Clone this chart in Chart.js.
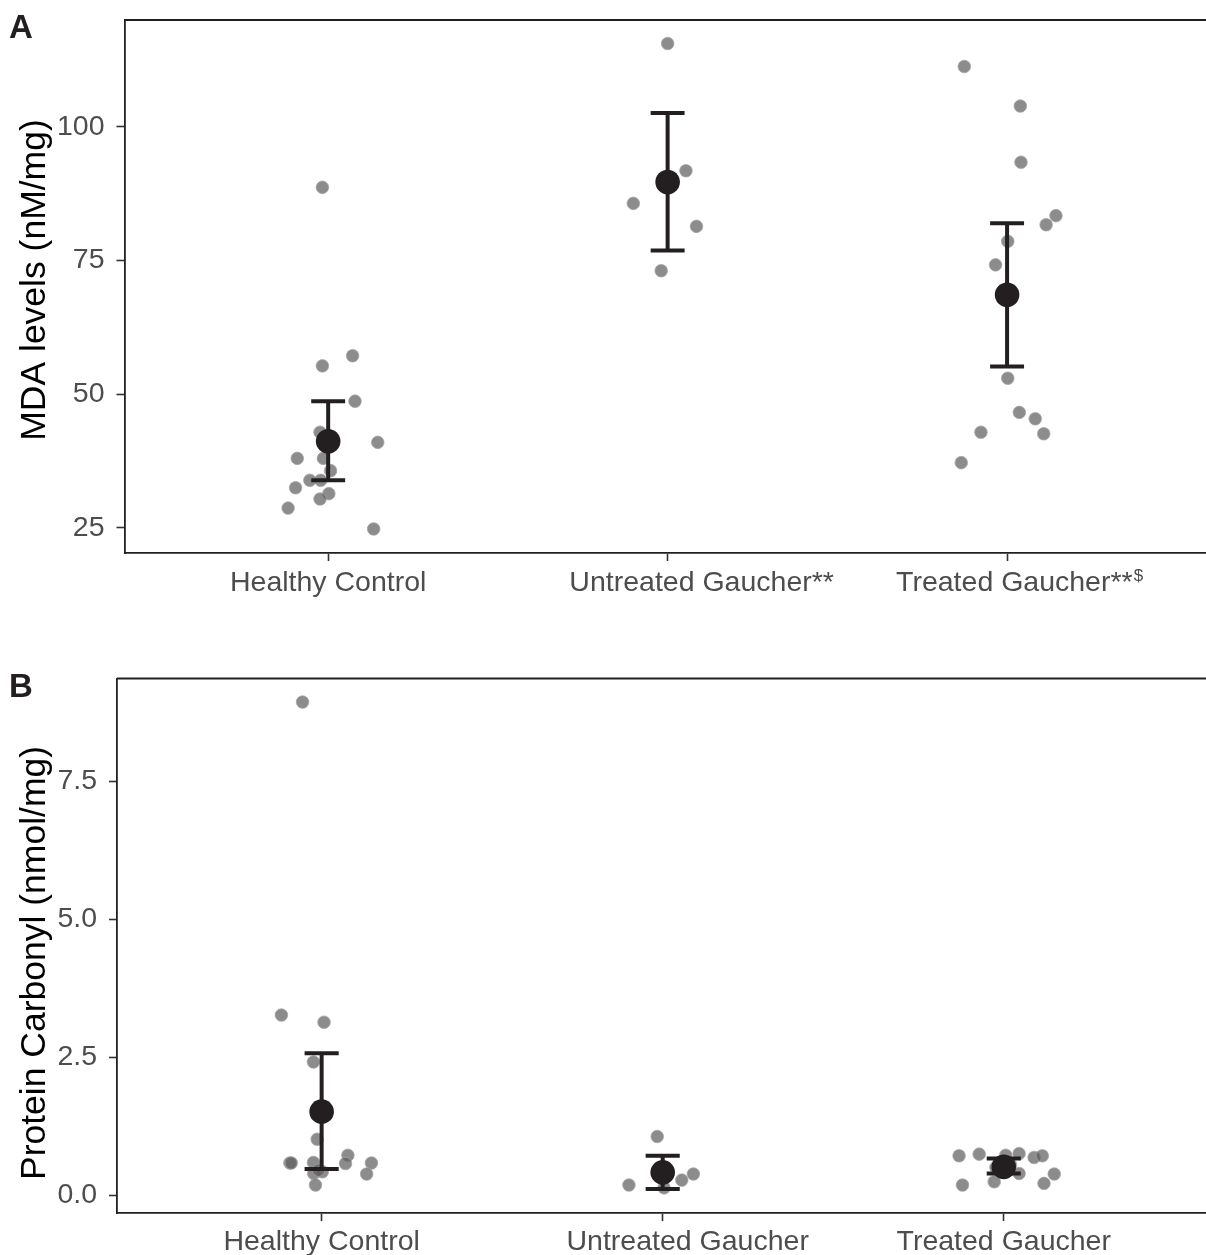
<!DOCTYPE html>
<html>
<head>
<meta charset="utf-8">
<script src="https://cdn.jsdelivr.net/npm/chart.js@4.4.1/dist/chart.umd.min.js"></script>
<style>
  html, body { margin: 0; padding: 0; background: #fff; overflow: hidden; }
  canvas { position: absolute; left: 0; }
  #chartA { top: 0; }
  #chartB { top: 640px; }
</style>
</head>
<body>
<canvas id="chartA" width="1206" height="625"></canvas>
<canvas id="chartB" width="1206" height="615"></canvas>
<script>
// ---- data ----
const categoriesA = ['Healthy Control', 'Untreated Gaucher**', 'Treated Gaucher**'];
const superscriptsA = ['', '', '$'];
const categoriesB = ['Healthy Control', 'Untreated Gaucher', 'Treated Gaucher'];

// MDA levels (nM/mg), individual subjects + horizontal jitter (category units)
const mdaHealthy = [88.7, 57.2, 55.3, 48.7, 42.9, 41.0, 38.0, 38.0, 35.7, 33.9, 33.9, 32.5, 31.4, 30.4, 28.7, 24.8];
const mdaHealthyJit = [-0.017, 0.072, -0.017, 0.079, -0.024, 0.146, -0.091, -0.014, 0.007, -0.054, -0.022, -0.096, 0.002, -0.024, -0.118, 0.134];
const mdaUntreated = [115.6, 91.8, 85.7, 81.4, 73.1];
const mdaUntreatedJit = [0.0, 0.054, -0.101, 0.085, -0.019];
const mdaTreated = [111.3, 103.9, 93.4, 83.4, 81.7, 78.6, 74.2, 53.0, 46.6, 45.4, 42.9, 42.6, 37.2];
const mdaTreatedJit = [-0.126, 0.039, 0.041, 0.144, 0.115, 0.002, -0.034, 0.002, 0.036, 0.083, -0.077, 0.108, -0.135];
const mdaMean = [41.2, 89.7, 68.6];
const mdaLow = [33.9, 76.9, 55.2];
const mdaHigh = [48.7, 102.6, 82.0];
const mdaTicks = [25, 50, 75, 100];

// Protein carbonyl (nmol/mg)
const pcHealthy = [8.93, 3.26, 3.13, 2.41, 1.01, 0.58, 0.58, 0.72, 0.57, 0.58, 0.38, 0.59, 0.39, 0.42, 0.18, 0.45];
const pcHealthyJit = [-0.056, -0.118, 0.007, -0.024, -0.013, -0.093, -0.089, 0.077, 0.070, 0.146, 0.132, -0.024, -0.023, 0.002, -0.018, -0.009];
const pcUntreated = [1.06, 0.18, 0.27, 0.38, 0.13];
const pcUntreatedJit = [-0.016, -0.099, 0.056, 0.090, 0.004];
const pcTreated = [0.71, 0.74, 0.72, 0.75, 0.68, 0.71, 0.39, 0.38, 0.18, 0.24, 0.21, 0.55, 0.50];
const pcTreatedJit = [-0.131, -0.072, 0.006, 0.045, 0.089, 0.113, 0.045, 0.148, -0.121, -0.028, 0.118, 0.020, -0.023];
const pcMean = [1.51, 0.41, 0.51];
const pcLow = [0.47, 0.11, 0.39];
const pcHigh = [2.57, 0.71, 0.66];
const pcTicks = [0, 2.5, 5, 7.5];

// ---- helpers ----
const FONT = '"Liberation Sans", Arial, Helvetica, sans-serif';
const INK = '#231f20';
Chart.defaults.font.family = FONT;

function jittered(groups, jitters) {
    const pts = [];
    groups.forEach(function (vals, g) {
        vals.forEach(function (v, i) {
            pts.push({ x: g + 1 + jitters[g][i], y: v });
        });
    });
    return pts;
}

function errorBars(low, high, capW) {
    const pts = [];
    for (let i = 0; i < low.length; i++) {
        const c = i + 1;
        pts.push({ x: c, y: low[i] }, { x: c, y: high[i] }, { x: c, y: null });
        pts.push({ x: c - capW, y: high[i] }, { x: c + capW, y: high[i] }, { x: c, y: null });
        pts.push({ x: c - capW, y: low[i] }, { x: c + capW, y: low[i] }, { x: c, y: null });
    }
    return pts;
}

// top frame line, panel letter, y title and the category labels (with superscripts)
const panelDecor = {
    id: 'panelDecor',
    afterDraw(chart, args, o) {
        const ctx = chart.ctx;
        const area = chart.chartArea;
        const xs = chart.scales.x;
        ctx.save();
        ctx.strokeStyle = INK;
        ctx.lineWidth = 1.8;
        ctx.beginPath();
        ctx.moveTo(area.left, area.top);
        ctx.lineTo(area.right, area.top);
        ctx.stroke();

        ctx.fillStyle = INK;
        ctx.textAlign = 'left';
        ctx.textBaseline = 'alphabetic';
        ctx.font = 'bold 33px ' + FONT;
        ctx.fillText(o.letter, o.letterX, o.letterY);

        // axis title, rotated
        ctx.save();
        ctx.translate(o.titleX, o.titleY);
        ctx.rotate(-Math.PI / 2);
        ctx.fillStyle = '#000000';
        ctx.font = '35.5px ' + FONT;
        ctx.textAlign = 'center';
        ctx.textBaseline = 'middle';
        ctx.fillText(o.title, 0, 0);
        ctx.restore();

        ctx.fillStyle = '#4d4d4d';
        ctx.textAlign = 'left';
        ctx.textBaseline = 'alphabetic';
        o.labels.forEach(function (lab, i) {
            const sup = o.sups[i] || '';
            ctx.font = '28.5px ' + FONT;
            const w1 = ctx.measureText(lab).width;
            ctx.font = '17px ' + FONT;
            const w2 = sup ? ctx.measureText(sup).width : 0;
            const x0 = xs.getPixelForValue(i + 1) + o.shifts[i] - (w1 + w2) / 2;
            ctx.font = '28.5px ' + FONT;
            ctx.fillText(lab, x0, o.labelY);
            if (sup) {
                ctx.font = '17px ' + FONT;
                ctx.fillText(sup, x0 + w1 + 1, o.labelY - 10);
            }
        });
        ctx.restore();
    }
};

function makePanel(id, p) {
    return new Chart(document.getElementById(id), {
        type: 'scatter',
        data: {
            datasets: [
                {
                    data: p.mean.map(function (v, i) { return { x: i + 1, y: v }; }),
                    backgroundColor: INK,
                    borderColor: INK,
                    borderWidth: 0,
                    pointRadius: 12.3,
                    order: 0
                },
                {
                    type: 'line',
                    data: errorBars(p.low, p.high, 0.05),
                    borderColor: INK,
                    borderWidth: 4,
                    borderCapStyle: 'butt',
                    pointRadius: 0,
                    spanGaps: false,
                    fill: false,
                    tension: 0,
                    order: 1
                },
                {
                    data: p.points,
                    backgroundColor: 'rgba(95,95,95,0.72)',
                    borderColor: 'rgba(165,165,165,0.75)',
                    borderWidth: 1,
                    pointRadius: 6.3,
                    order: 2
                }
            ]
        },
        options: {
            responsive: false,
            animation: false,
            events: [],
            layout: { autoPadding: false, padding: { top: p.padTop, left: 0, right: 0, bottom: 0 } },
            plugins: {
                legend: { display: false },
                tooltip: { enabled: false },
                panelDecor: p.decor
            },
            scales: {
                x: {
                    type: 'linear',
                    min: 0.4,
                    max: p.xMax,
                    afterBuildTicks: function (s) { s.ticks = [1, 2, 3].map(function (v) { return { value: v }; }); },
                    afterFit: function (s) { s.height = p.xAxisH; s.paddingLeft = 0; s.paddingRight = 0; },
                    ticks: { display: false, autoSkip: false },
                    grid: { drawOnChartArea: false, drawTicks: true, tickLength: 8, tickColor: '#333333', tickWidth: 1.6 },
                    border: { color: INK, width: 1.8 }
                },
                y: {
                    min: p.yMin,
                    max: p.yMax,
                    afterBuildTicks: function (s) { s.ticks = p.ticks.map(function (v) { return { value: v }; }); },
                    afterFit: function (s) { s.width = p.yAxisW; s.paddingTop = 0; s.paddingBottom = 0; },
                    ticks: {
                        color: '#4d4d4d',
                        font: { size: 28.5 },
                        padding: 12,
                        callback: p.tickFmt
                    },
                    grid: { drawOnChartArea: false, drawTicks: true, tickLength: 8, tickColor: '#333333', tickWidth: 1.6 },
                    border: { color: INK, width: 1.8 },
                    title: { display: false }
                }
            }
        },
        plugins: [panelDecor]
    });
}

makePanel('chartA', {
    points: jittered([mdaHealthy, mdaUntreated, mdaTreated], [mdaHealthyJit, mdaUntreatedJit, mdaTreatedJit]),
    mean: mdaMean, low: mdaLow, high: mdaHigh,
    ticks: mdaTicks,
    tickFmt: function (v) { return String(v); },
    yMin: 20.3, yMax: 120,
    xMax: 3.586,
    padTop: 20, xAxisH: 72, yAxisW: 124.5,
    decor: {
        letter: 'A', letterX: 9, letterY: 38,
        title: 'MDA levels (nM/mg)', titleX: 35.3, titleY: 280,
        labels: categoriesA, sups: superscriptsA, shifts: [0, 34, 12], labelY: 591
    }
});

makePanel('chartB', {
    points: jittered([pcHealthy, pcUntreated, pcTreated], [pcHealthyJit, pcUntreatedJit, pcTreatedJit]),
    mean: pcMean, low: pcLow, high: pcHigh,
    ticks: pcTicks,
    tickFmt: function (v) { return v.toFixed(1); },
    yMin: -0.326, yMax: 9.357,
    xMax: 3.593,
    padTop: 38.5, xAxisH: 42, yAxisW: 117,
    decor: {
        letter: 'B', letterX: 9, letterY: 57,
        title: 'Protein Carbonyl (nmol/mg)', titleX: 35.3, titleY: 323,
        labels: categoriesB, sups: ['', '', ''], shifts: [0, 25, 0], labelY: 610
    }
});
</script>
</body>
</html>
